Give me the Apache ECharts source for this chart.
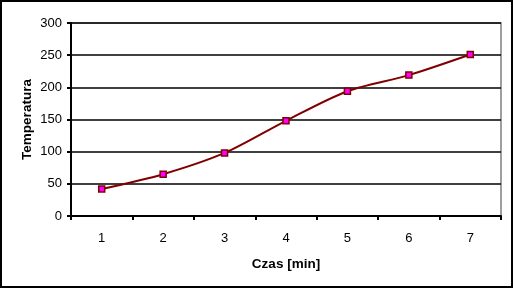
<!DOCTYPE html>
<html><head><meta charset="utf-8">
<script src="https://cdn.jsdelivr.net/npm/echarts@6/dist/echarts.min.js"></script>
<style>html,body{margin:0;padding:0;background:#fff}#c{width:513px;height:288px;box-sizing:border-box;border:2px solid #000}</style>
</head><body><div id="c"></div>
<script>
const categories = ['1','2','3','4','5','6','7'];
const temperatures = [42, 65, 98, 148, 194, 219, 251];
const chart = echarts.init(document.getElementById('c'));
chart.setOption({
  animation:false,
  grid:{left:69,top:21,width:430,height:193,show:true,borderColor:'#808080',borderWidth:1.5,backgroundColor:'transparent'},
  xAxis:{type:'category',data:categories,boundaryGap:true,
    name:'Czas [min]',nameLocation:'middle',nameGap:41,nameMoveOverlap:false,
    nameTextStyle:{fontFamily:'Liberation Sans',fontWeight:'bold',fontSize:13.5,color:'#000'},
    axisLine:{lineStyle:{color:'#000',width:2}},
    axisTick:{show:true,inside:false,length:4,lineStyle:{color:'#000',width:2}},
    axisLabel:{fontFamily:'Liberation Sans',fontSize:13,color:'#000',margin:16},
    splitLine:{show:false}},
  yAxis:{type:'value',min:0,max:300,interval:50,
    name:'Temperatura',nameLocation:'middle',nameGap:37,nameMoveOverlap:false,
    nameTextStyle:{fontFamily:'Liberation Sans',fontWeight:'bold',fontSize:13.5,color:'#000'},
    axisLine:{show:true,lineStyle:{color:'#000',width:2}},
    axisTick:{show:true,length:4,lineStyle:{color:'#000',width:2}},
    axisLabel:{fontFamily:'Liberation Sans',fontSize:13,color:'#000',margin:9},
    splitLine:{show:true,lineStyle:{color:'#000',width:1.5}}},
  series:[{type:'line',data:temperatures,smooth:0.3,
    symbol:'rect',symbolSize:6,
    lineStyle:{color:'#800000',width:2},
    itemStyle:{color:'#FF00FF',borderColor:'#800000',borderWidth:1.5}}]
});
</script></body></html>
